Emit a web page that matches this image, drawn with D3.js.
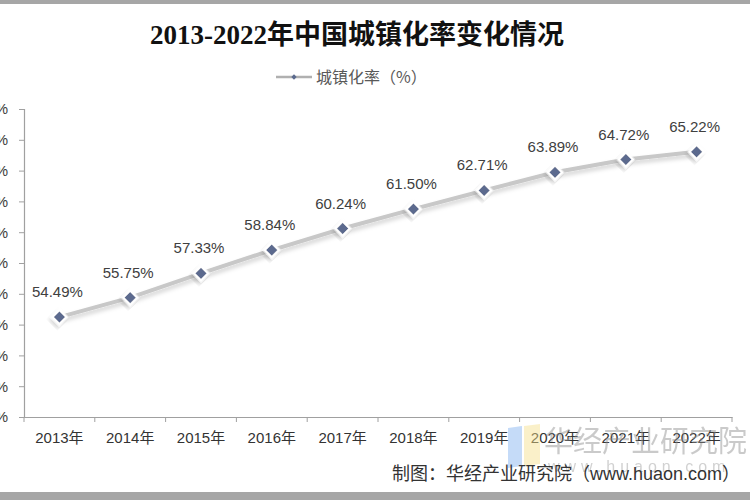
<!DOCTYPE html>
<html>
<head>
<meta charset="utf-8">
<script src="https://cdn.jsdelivr.net/npm/d3@7"></script>
<style>
  body { margin: 0; background: #fff; }
  svg { display: block; }
</style>
</head>
<body>
<script>
// data
var years = ["2013年", "2014年", "2015年", "2016年", "2017年", "2018年", "2019年", "2020年", "2021年", "2022年"];
var rates = [54.49, 55.75, 57.33, 58.84, 60.24, 61.50, 62.71, 63.89, 64.72, 65.22];
var yTicks = [48, 50, 52, 54, 56, 58, 60, 62, 64, 66, 68];

var width = 750;
var height = 500;

var svg = d3.select("body")
  .append("svg")
  .attr("width", width)
  .attr("height", height);

var defs = svg.append("defs");
var shadow = defs.append("filter")
  .attr("id", "shadow")
  .attr("x", "-20%").attr("y", "-50%")
  .attr("width", "140%").attr("height", "200%");
shadow.append("feDropShadow")
  .attr("dx", 1).attr("dy", 3)
  .attr("stdDeviation", 2.2)
  .attr("flood-color", "#000")
  .attr("flood-opacity", 0.18);

// frame bars top / bottom
svg.append("rect").attr("x", 0).attr("y", 0).attr("width", width).attr("height", 4).attr("fill", "#a6a6a6");
svg.append("rect").attr("x", 0).attr("y", 492).attr("width", width).attr("height", 8).attr("fill", "#a6a6a6");

//scales
var x = d3.scaleBand()
  .domain(years)
  .range([24, 732])
  .padding(0);

var y = d3.scaleLinear()
  .domain([48, 68])
  .range([417, 109]);

function cx(d) { return x(d) + x.bandwidth() / 2; }

// axes
var yAxis = d3.axisLeft(y)
  .tickValues(yTicks)
  .tickSize(5)
  .tickFormat(function(d) { return d + "%"; });

var gy = svg.append("g")
  .attr("transform", "translate(24,0)")
  .call(yAxis);
gy.select(".domain").attr("stroke", "#a0a0a0").attr("stroke-width", 1.2);
gy.selectAll(".tick line").attr("stroke", "#a0a0a0");
gy.selectAll(".tick text")
  .attr("x", -16)
  .attr("fill", "#404040")
  .attr("font-family", "Liberation Sans, Arial, sans-serif")
  .attr("font-size", "15px");

var xAxis = d3.axisBottom(x).tickSize(0).tickPadding(0);
var gx = svg.append("g")
  .attr("transform", "translate(0,417)")
  .call(xAxis);
gx.select(".domain").attr("stroke", "#a0a0a0").attr("stroke-width", 1.2);
gx.selectAll(".tick text")
  .attr("y", 26)
  .attr("dy", 0)
  .attr("fill", "#333")
  .attr("font-family", "Liberation Sans, 'Noto Sans CJK SC', sans-serif")
  .attr("font-size", "15px");

// category separators
gx.selectAll(".sep")
  .data(years.concat(["end"]))
  .enter()
  .append("line")
  .attr("class", "sep")
  .attr("x1", function(d, i) { return 24 + i * x.bandwidth(); })
  .attr("x2", function(d, i) { return 24 + i * x.bandwidth(); })
  .attr("y1", 0)
  .attr("y2", 5)
  .attr("stroke", "#a0a0a0");

// watermark
var wm = svg.append("g").attr("opacity", 0.45);
wm.append("polygon").attr("points", "508,428 522,426 522,466 508,468").attr("fill", "#7fb0f0");
wm.append("polygon").attr("points", "524,426 540,424 540,464 524,466").attr("fill", "#f5e08a");
wm.append("text")
  .attr("x", 544).attr("y", 452)
  .attr("font-family", "'Noto Sans CJK SC', sans-serif")
  .attr("font-size", "29px")
  .attr("fill", "#8c8c8c")
  .text("华经产业研究院");
wm.append("text")
  .attr("x", 548).attr("y", 472)
  .attr("font-family", "Liberation Sans, sans-serif")
  .attr("font-size", "16px")
  .attr("letter-spacing", "5px")
  .attr("fill", "#9a9a9a")
  .text("www.huaon.com");

// line
var line = d3.line()
  .x(function(d, i) { return cx(years[i]); })
  .y(function(d) { return y(d); });

svg.append("path")
  .datum(rates)
  .attr("d", line)
  .attr("fill", "none")
  .attr("stroke", "#c8c8c8")
  .attr("stroke-width", 4)
  .attr("filter", "url(#shadow)");

// markers
svg.selectAll(".pt")
  .data(rates)
  .enter()
  .append("path")
  .attr("class", "pt")
  .attr("d", d3.symbol().type(d3.symbolSquare).size(110))
  .attr("transform", function(d, i) {
    return "translate(" + cx(years[i]) + "," + y(d) + ") rotate(45)";
  })
  .attr("fill", "#5b6a8e")
  .attr("stroke", "#fff")
  .attr("stroke-width", 2.5)
  .attr("filter", "url(#shadow)");

// value labels
svg.selectAll(".lbl")
  .data(rates)
  .enter()
  .append("text")
  .attr("class", "lbl")
  .attr("x", function(d, i) { return cx(years[i]) - 2; })
  .attr("y", function(d) { return y(d) - 20; })
  .attr("text-anchor", "middle")
  .attr("fill", "#404040")
  .attr("font-family", "Liberation Sans, Arial, sans-serif")
  .attr("font-size", "15px")
  .text(function(d) { return d.toFixed(2) + "%"; });

// title
svg.append("text")
  .attr("x", 357)
  .attr("y", 44)
  .attr("text-anchor", "middle")
  .attr("font-family", "'Liberation Serif', 'Noto Sans CJK SC', serif")
  .attr("font-weight", "bold")
  .attr("font-size", "27px")
  .attr("fill", "#111")
  .text("2013-2022年中国城镇化率变化情况");

// legend
svg.append("line")
  .attr("x1", 276).attr("x2", 312)
  .attr("y1", 77).attr("y2", 77)
  .attr("stroke", "#b0b0b0")
  .attr("stroke-width", 2.5);
svg.append("path")
  .attr("d", d3.symbol().type(d3.symbolSquare).size(14))
  .attr("transform", "translate(294,77) rotate(45)")
  .attr("fill", "#5b6a8e");
svg.append("text")
  .attr("x", 316)
  .attr("y", 83)
  .attr("font-family", "'Noto Sans CJK SC', sans-serif")
  .attr("font-size", "16px")
  .attr("fill", "#595959")
  .text("城镇化率（%）");

// source
svg.append("text")
  .attr("x", 740)
  .attr("y", 480)
  .attr("text-anchor", "end")
  .attr("font-family", "Liberation Sans, 'Noto Sans CJK SC', sans-serif")
  .attr("font-size", "18px")
  .attr("fill", "#333")
  .text("制图：华经产业研究院（www.huaon.com）");
</script>
</body>
</html>
